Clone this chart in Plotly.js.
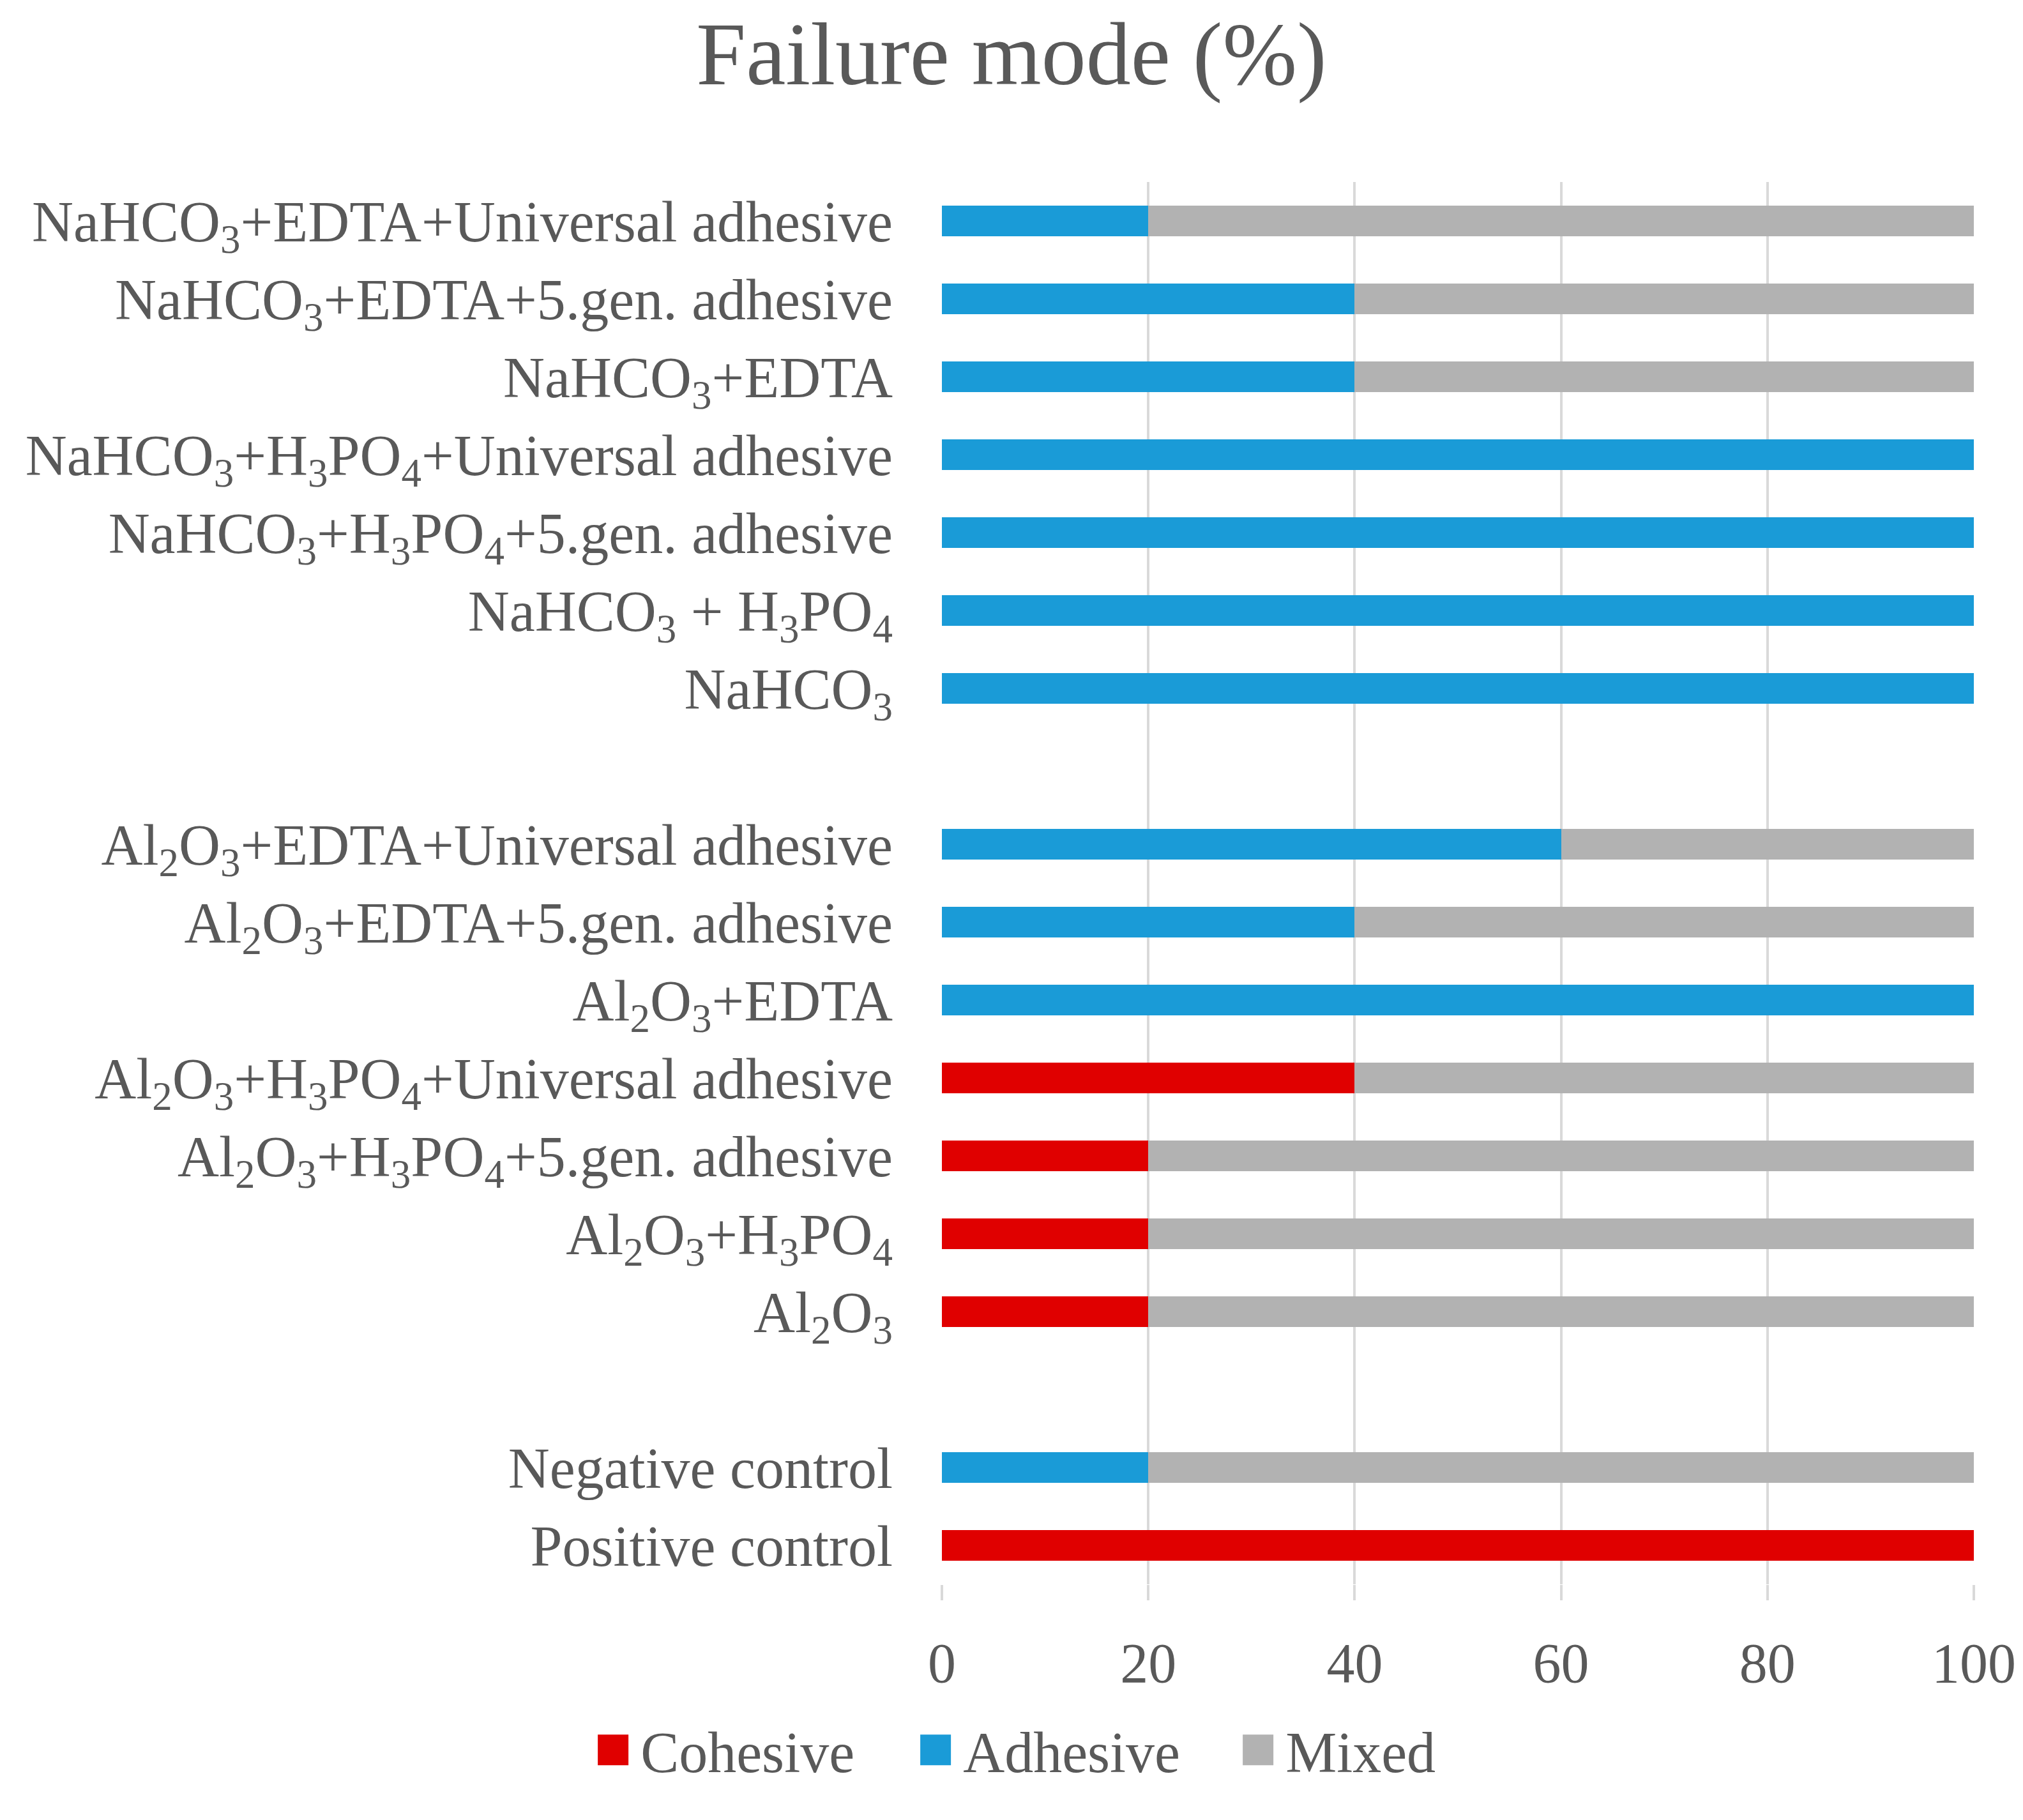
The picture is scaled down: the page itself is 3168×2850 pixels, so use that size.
<!DOCTYPE html>
<html>
<head>
<meta charset="utf-8">
<script src="https://cdn.plot.ly/plotly-3.0.1.min.js"></script>
<style>
  html, body { margin: 0; padding: 0; background: #ffffff; }
  #chart { width: 3168px; height: 2850px; }
</style>
</head>
<body>
<div id="chart"></div>
<script>
// Categories, top to bottom (blank entries are the spacer rows)
const categories = [
  "NaHCO<sub>3</sub>+EDTA+Universal adhesive",
  "NaHCO<sub>3</sub>+EDTA+5.gen. adhesive",
  "NaHCO<sub>3</sub>+EDTA",
  "NaHCO<sub>3</sub>+H<sub>3</sub>PO<sub>4</sub>+Universal adhesive",
  "NaHCO<sub>3</sub>+H<sub>3</sub>PO<sub>4</sub>+5.gen. adhesive",
  "NaHCO<sub>3</sub> + H<sub>3</sub>PO<sub>4</sub>",
  "NaHCO<sub>3</sub>",
  " ",
  "Al<sub>2</sub>O<sub>3</sub>+EDTA+Universal adhesive",
  "Al<sub>2</sub>O<sub>3</sub>+EDTA+5.gen. adhesive",
  "Al<sub>2</sub>O<sub>3</sub>+EDTA",
  "Al<sub>2</sub>O<sub>3</sub>+H<sub>3</sub>PO<sub>4</sub>+Universal adhesive",
  "Al<sub>2</sub>O<sub>3</sub>+H<sub>3</sub>PO<sub>4</sub>+5.gen. adhesive",
  "Al<sub>2</sub>O<sub>3</sub>+H<sub>3</sub>PO<sub>4</sub>",
  "Al<sub>2</sub>O<sub>3</sub>",
  "  ",
  "Negative control",
  "Positive control"
];

const cohesive = [0, 0, 0, 0, 0, 0, 0, null, 0, 0, 0, 40, 20, 20, 20, null, 0, 100];
const adhesive = [20, 40, 40, 100, 100, 100, 100, null, 60, 40, 100, 0, 0, 0, 0, null, 20, 0];
const mixed    = [80, 60, 60, 0, 0, 0, 0, null, 40, 60, 0, 60, 80, 80, 80, null, 80, 0];

const seriesNames = ["Cohesive", "Adhesive", "Mixed"];
const seriesColors = ["#E00000", "#1A9BD7", "#B2B2B2"];
const xTicks = [0, 20, 40, 60, 80, 100];

const FONT = "'Liberation Serif', 'DejaVu Serif', serif";
const TEXT = "#595959";

const seriesValues = [cohesive, adhesive, mixed];
const traces = seriesValues.map((vals, i) => ({
  type: "bar",
  orientation: "h",
  name: seriesNames[i],
  x: vals,
  y: categories,
  marker: { color: seriesColors[i], line: { width: 0 } },
  hoverinfo: "x+y+name"
}));

const layout = {
  width: 3168,
  height: 2850,
  paper_bgcolor: "#ffffff",
  plot_bgcolor: "#ffffff",
  barmode: "stack",
  bargap: 0.6,
  font: { family: FONT, color: TEXT, size: 90 },
  title: {
    text: "Failure mode (%)",
    font: { family: FONT, size: 140, color: TEXT },
    x: 0.5, xref: "container", xanchor: "center",
    y: 0.971, yref: "container", yanchor: "middle"
  },
  margin: { l: 1475, r: 77, t: 285, b: 369, pad: 0 },
  xaxis: {
    range: [0, 100],
    tickvals: xTicks,
    ticktext: xTicks.map(String),
    showgrid: true,
    gridcolor: "#D9D9D9",
    gridwidth: 4,
    zeroline: false,
    showline: false,
    ticks: "outside",
    ticklen: 24,
    tickwidth: 4,
    tickcolor: "#D9D9D9",
    ticklabelstandoff: 22,
    tickfont: { family: FONT, size: 88, color: TEXT },
    fixedrange: true
  },
  yaxis: {
    type: "category",
    categoryorder: "array",
    categoryarray: categories,
    autorange: "reversed",
    showgrid: false,
    zeroline: false,
    showline: false,
    ticks: "",
    ticklabelstandoff: 76,
    tickfont: { family: FONT, size: 90, color: TEXT },
    fixedrange: true
  },
  showlegend: true,
  legend: {
    orientation: "h",
    xref: "container", yref: "container",
    x: 0.2895, xanchor: "left",
    y: 0.0385, yanchor: "middle",
    font: { family: FONT, size: 90, color: TEXT },
    itemwidth: 76,
    entrywidth: 414,
    traceorder: "normal",
    bgcolor: "rgba(0,0,0,0)"
  }
};

Plotly.newPlot("chart", traces, layout, { displayModeBar: false, staticPlot: true }).then(() => {
  // enlarge the legend swatches to match the reference's square keys
  document.querySelectorAll("#chart .legend .legendpoints path").forEach(p => {
    const t = p.getAttribute("transform") || "";
    p.setAttribute("transform", t + " scale(4)");
  });
});
</script>
</body>
</html>
